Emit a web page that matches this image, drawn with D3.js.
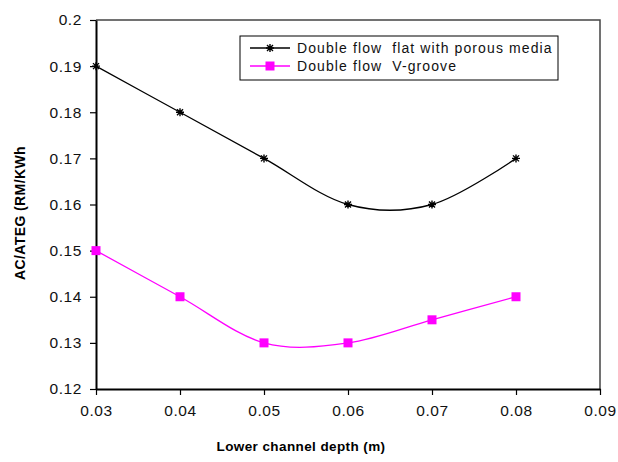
<!DOCTYPE html>
<html>
<head>
<meta charset="utf-8">
<script src="https://cdn.jsdelivr.net/npm/d3@7"></script>
<style>
  body { margin: 0; background: #fff; }
  text { font-family: "Liberation Sans", Arial, sans-serif; }
</style>
</head>
<body>
<div id="chart"></div>
<script>
// --- DATA ---
const depths = [0.03, 0.04, 0.05, 0.06, 0.07, 0.08];
const flatPorous = [0.19, 0.18, 0.17, 0.16, 0.16, 0.17];
const vGroove = [0.15, 0.14, 0.13, 0.13, 0.135, 0.14];
const seriesNames = ["Double flow  flat with porous media", "Double flow  V-groove"];
const xTicks = [0.03, 0.04, 0.05, 0.06, 0.07, 0.08, 0.09];
const yTicks = [0.12, 0.13, 0.14, 0.15, 0.16, 0.17, 0.18, 0.19, 0.2];

const W = 618, H = 462;
const margin = { top: 20, right: 18, bottom: 73, left: 96 };
const width = W - margin.left - margin.right;
const height = H - margin.top - margin.bottom;

const svg = d3.select("#chart").append("svg")
    .attr("width", W)
    .attr("height", H);

const g = svg.append("g")
    .attr("transform", `translate(${margin.left},${margin.top})`);

const x = d3.scaleLinear().domain([0.03, 0.09]).range([0, width]);
const y = d3.scaleLinear().domain([0.12, 0.2]).range([height, 0]);

// top + right frame (grey)
g.append("path")
    .attr("d", `M0,0H${width}V${height}`)
    .attr("fill", "none")
    .attr("stroke", "#444")
    .attr("stroke-width", 1.5);

// axes
const xAxis = g.append("g")
    .attr("transform", `translate(0,${height})`)
    .call(d3.axisBottom(x).tickValues(xTicks).tickSize(6).tickSizeOuter(0)
        .tickFormat(d => d3.format(".2f")(d)));

const yAxis = g.append("g")
    .call(d3.axisLeft(y).tickValues(yTicks).tickSize(6).tickSizeOuter(0)
        .tickFormat(d => d === 0.2 ? "0.2" : d3.format(".2f")(d)));

[xAxis, yAxis].forEach(a => {
    a.attr("font-family", null).attr("font-size", null);
    a.select(".domain").attr("stroke", "#000").attr("stroke-width", 2);
    a.selectAll(".tick line").attr("stroke", "#000").attr("stroke-width", 1.2);
    a.selectAll(".tick text")
        .attr("fill", "#111")
        .style("font-size", "15.5px")
        .style("letter-spacing", "0.6px");
});
xAxis.selectAll(".tick text").attr("y", 13).attr("dy", "0.9em");
yAxis.selectAll(".tick text").attr("x", -14);

// axis titles
svg.append("text")
    .attr("x", 301)
    .attr("y", 451)
    .attr("text-anchor", "middle")
    .style("font-size", "13.5px")
    .style("font-weight", "bold")
    .style("letter-spacing", "0.4px")
    .text("Lower channel depth (m)");

svg.append("text")
    .attr("transform", `translate(25,213) rotate(-90)`)
    .attr("text-anchor", "middle")
    .style("font-size", "14px")
    .style("font-weight", "bold")
    .style("letter-spacing", "0.4px")
    .text("AC/ATEG (RM/KWh");

// lines
const line = d3.line()
    .x(d => x(d[0]))
    .y(d => y(d[1]))
    .curve(d3.curveCatmullRom.alpha(0));

const colors = ["#000", "#ff00ff"];
const data = [flatPorous, vGroove];

function asterisk(sel) {
    sel.append("path")
        .attr("d", "M-4,0H4M0,-4V4M-3,-3L3,3M-3,3L3,-3")
        .attr("stroke", "#000")
        .attr("stroke-width", 1.4);
}
function square(sel) {
    sel.append("rect")
        .attr("x", -4.5).attr("y", -4.5)
        .attr("width", 9).attr("height", 9)
        .attr("fill", "#ff00ff");
}
const markers = [asterisk, square];

data.forEach((vals, i) => {
    const pts = depths.map((d, j) => [d, vals[j]]);
    g.append("path")
        .datum(pts)
        .attr("d", line)
        .attr("fill", "none")
        .attr("stroke", colors[i])
        .attr("stroke-width", 1.3);
    g.selectAll(".m" + i)
        .data(pts)
        .enter().append("g")
        .attr("class", "m" + i)
        .attr("transform", d => `translate(${x(d[0])},${y(d[1])})`)
        .each(function () { markers[i](d3.select(this)); });
});

// legend
const legend = svg.append("g").attr("transform", "translate(240,36)");
legend.append("rect")
    .attr("width", 318).attr("height", 44)
    .attr("fill", "#fff")
    .attr("stroke", "#000")
    .attr("stroke-width", 1);

seriesNames.forEach((name, i) => {
    const row = legend.append("g").attr("transform", `translate(0,${12 + i * 18})`);
    row.append("line")
        .attr("x1", 10).attr("x2", 50)
        .attr("stroke", colors[i])
        .attr("stroke-width", 1.3);
    const m = row.append("g").attr("transform", "translate(30,0)");
    markers[i](m);
    row.append("text")
        .attr("x", 57)
        .attr("y", 5)
        .attr("xml:space", "preserve")
        .style("white-space", "pre")
        .style("font-size", "14px")
        .style("letter-spacing", "1.1px")
        .attr("fill", "#111")
        .text(name);
});
</script>
</body>
</html>
